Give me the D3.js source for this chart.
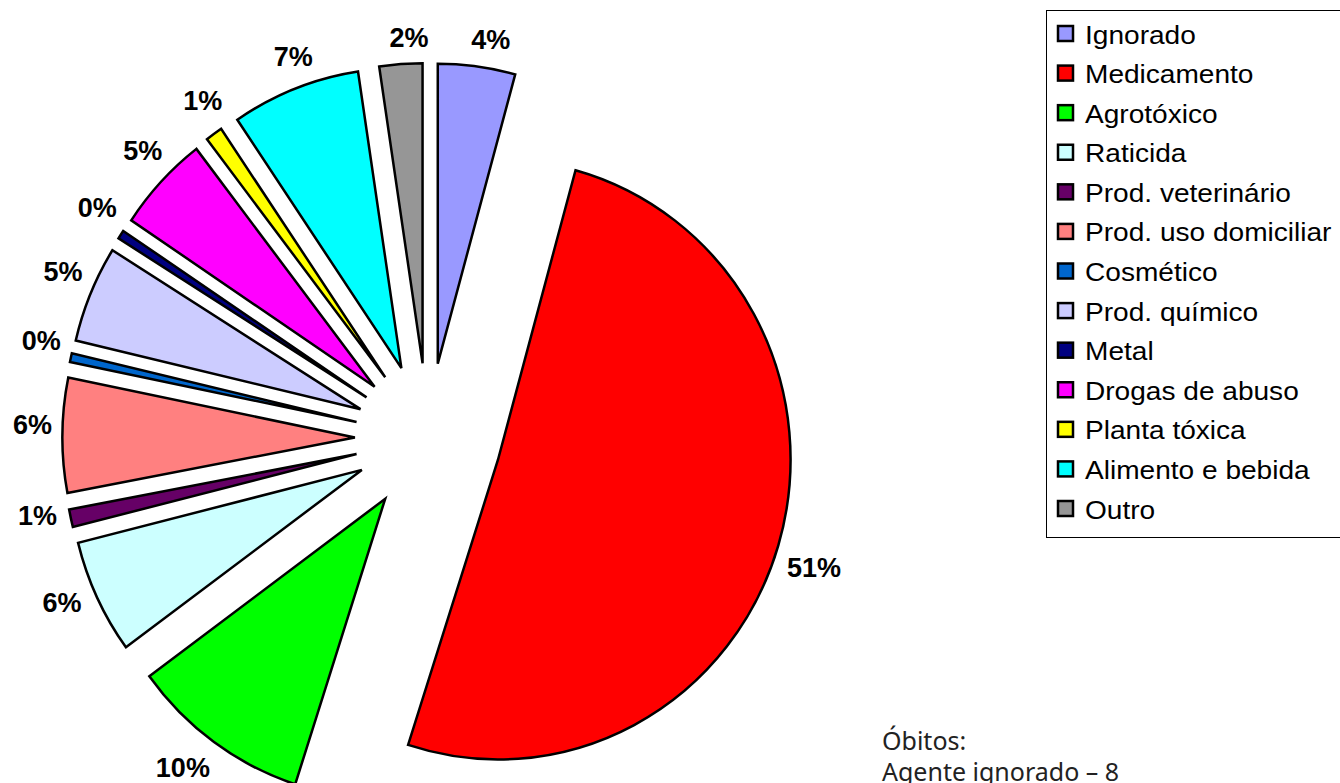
<!DOCTYPE html>
<html><head><meta charset="utf-8">
<script src="https://cdn.jsdelivr.net/npm/d3@7"></script>
<style>body{margin:0;background:#fff}svg{display:block}</style></head>
<body>
<svg id="c" width="1340" height="783"></svg>
<script>
const categories = ["Ignorado","Medicamento","Agrotóxico","Raticida","Prod. veterinário","Prod. uso domiciliar","Cosmético","Prod. químico","Metal","Drogas de abuso","Planta tóxica","Alimento e bebida","Outro"];
const values = [9,107,21,13,2,13,1,11,1,11,2,15,5];
const colors = ["#9999FF","#FF0000","#00FF00","#CCFFFF","#660066","#FF8080","#0066CC","#CCCCFF","#000080","#FF00FF","#FFFF00","#00FFFF","#969696"];
const noteLines = ["Óbitos:","Agente ignorado – 8"];

const svg = d3.select("#c");
const cx = 428, cy = 438, R = 300, explode = 75, sx = 0.975;
const total = d3.sum(values);
const pct = d3.format(".0%");
const pie = d3.pie().sort(null).value(d => d)(values);
const arc = d3.arc().innerRadius(0).outerRadius(R);

const g = svg.append("g").attr("transform", `translate(${cx},${cy}) scale(${sx},1)`);
g.selectAll("path").data(pie).join("path")
  .attr("d", arc)
  .attr("transform", d => { const m = (d.startAngle + d.endAngle) / 2; return `translate(${explode*Math.sin(m)},${-explode*Math.cos(m)})`; })
  .attr("fill", (d, i) => colors[i])
  .attr("stroke", "#000").attr("stroke-width", 2.5)
  .attr("stroke-linejoin", "miter")
  .attr("vector-effect", "non-scaling-stroke");

const lab = svg.append("g")
  .attr("font-family", "'Liberation Sans', Arial, sans-serif")
  .attr("font-weight", "bold").attr("font-size", 27).attr("fill", "#000");
pie.forEach((d, i) => {
  const m = (d.startAngle + d.endAngle) / 2 + 0.026, s = Math.sin(m), c = -Math.cos(m);
  const t = lab.append("text").text(pct(d.value / total)).attr("text-anchor", "middle");
  const w = t.node().getComputedTextLength(), h = 31;
  const off = 10 + Math.abs(s) * w / 2 + Math.abs(c) * h / 2;
  const x = cx + sx * (explode + R) * s + off * s;
  const y = cy + (explode + R) * c + off * c;
  t.attr("x", x).attr("y", y + 9.7);
});

const leg = svg.append("g");
leg.append("rect").attr("x", 1046.5).attr("y", 10.5).attr("width", 320).attr("height", 527)
  .attr("fill", "#fff").attr("stroke", "#000").attr("stroke-width", 1);
const ly = d3.scalePoint().domain(categories).range([34, 509]);
categories.forEach((c, i) => {
  leg.append("rect").attr("x", 1058).attr("y", ly(c) - 8).attr("width", 15).attr("height", 15)
    .attr("fill", colors[i]).attr("stroke", "#000").attr("stroke-width", 2.5);
  leg.append("text").attr("transform", `translate(1085,${ly(c) + 9.5}) scale(1.08,1)`)
    .attr("font-family", "'Liberation Sans', Arial, sans-serif").attr("font-size", 26)
    .attr("fill", "#000").text(c);
});

const note = svg.append("g").attr("font-family", "'Noto Sans', sans-serif").attr("font-size", 25).attr("fill", "#222");
noteLines.forEach((t, i) => note.append("text").attr("x", 882).attr("y", 750 + i * 31).text(t));
</script>
</body></html>
